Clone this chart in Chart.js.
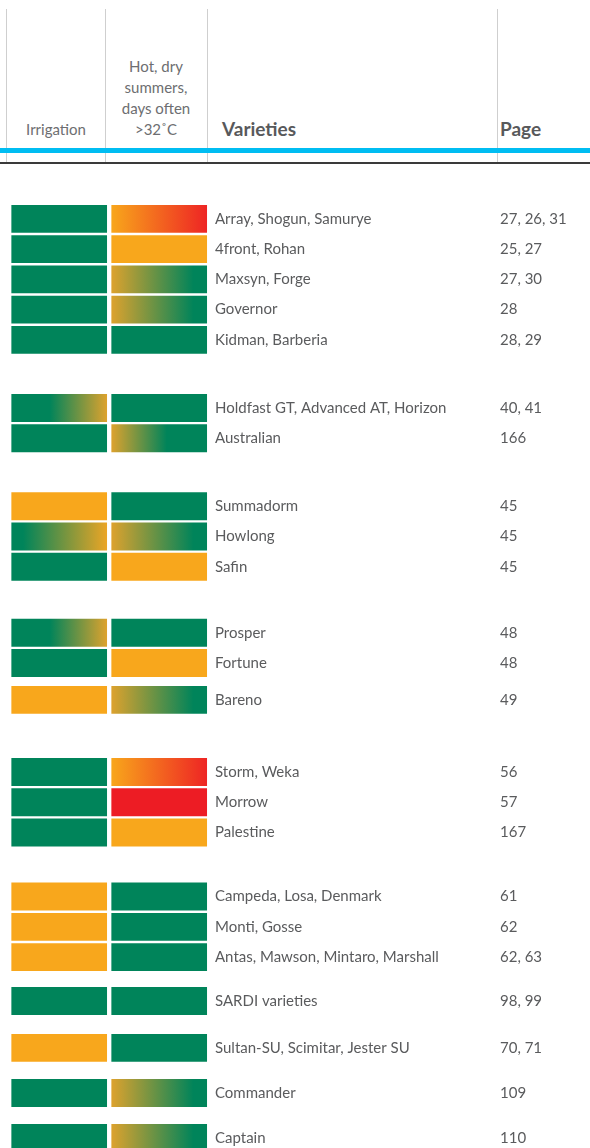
<!DOCTYPE html>
<html>
<head>
<meta charset="utf-8">
<script src="https://cdn.jsdelivr.net/npm/chart.js@4.4.0/dist/chart.umd.min.js"></script>
<style>
  body { margin: 0; background: #fff; font-family: 'Lato', sans-serif; }
  .page { position: relative; width: 590px; height: 1148px; overflow: hidden; }
  .vline { position: absolute; top: 9px; height: 154px; width: 1px; background: #cfcfcf; }
  .cyan { position: absolute; left: 0; top: 148px; width: 590px; height: 5px; background: #00bdf2; }
  .dark { position: absolute; left: 0; top: 162px; width: 590px; height: 2px; background: #3a3a3a; }
  .head { position: absolute; color: #6d6e71; font-size: 15px; line-height: 21px; text-align: center; }
  .bold { position: absolute; color: #58595b; font-size: 19px; font-weight: 700; }
  #chartWrap { position: absolute; left: 0; top: 165px; width: 590px; height: 983px; }
</style>
</head>
<body>
<div class="page">
  <div class="vline" style="left:6px"></div>
  <div class="vline" style="left:105px"></div>
  <div class="vline" style="left:207px"></div>
  <div class="vline" style="left:497px"></div>
  <div class="cyan"></div>
  <div class="dark"></div>
  <div class="head" style="left:6px;width:100px;top:119px">Irrigation</div>
  <div class="head" style="left:106px;width:100px;top:56px">Hot, dry<br>summers,<br>days often<br>&gt;32˚C</div>
  <div class="bold" style="left:222px;top:117px">Varieties</div>
  <div class="bold" style="left:500px;top:117px">Page</div>
  <div id="chartWrap"><canvas id="grid" width="590" height="983"></canvas></div>
</div>
<script>
// rows of the table
const varieties = [
  'Array, Shogun, Samurye', '4front, Rohan', 'Maxsyn, Forge', 'Governor', 'Kidman, Barberia',
  'Holdfast GT, Advanced AT, Horizon', 'Australian',
  'Summadorm', 'Howlong', 'Safin',
  'Prosper', 'Fortune', 'Bareno',
  'Storm, Weka', 'Morrow', 'Palestine',
  'Campeda, Losa, Denmark', 'Monti, Gosse', 'Antas, Mawson, Mintaro, Marshall',
  'SARDI varieties', 'Sultan-SU, Scimitar, Jester SU', 'Commander', 'Captain'
];
const pages = [
  '27, 26, 31', '25, 27', '27, 30', '28', '28, 29',
  '40, 41', '166',
  '45', '45', '45',
  '48', '48', '49',
  '56', '57', '167',
  '61', '62', '62, 63',
  '98, 99', '70, 71', '109', '110'
];
// suitability rating per column
const irrigation = [
  'green', 'green', 'green', 'green', 'green',
  'green-orange', 'green',
  'orange', 'green-orange-long', 'green',
  'green-orange', 'green', 'orange',
  'green', 'green', 'green',
  'orange', 'orange', 'orange',
  'green', 'orange', 'green', 'green'
];
const hotDry = [
  'orange-red', 'orange', 'orange-green', 'orange-green', 'green',
  'green', 'orange-green-mid',
  'green', 'orange-green', 'orange',
  'green', 'orange', 'orange-green',
  'orange-red', 'red', 'orange',
  'green', 'green', 'green',
  'green', 'green', 'orange-green', 'orange-green'
];

// layout: extra space (in row heights) inserted before a row
const extraGap = { 5: 1.25, 7: 1.25, 10: 1.18, 12: 0.22, 13: 1.38, 16: 1.12, 19: 0.45, 20: 0.55, 21: 0.49, 22: 0.49 };
const rowPos = [];
let acc = 0;
varieties.forEach((v, i) => {
  acc += (extraGap[i] || 0);
  rowPos.push(i + acc);
});

const GREEN = '#00845a', ORANGE = '#f8a71c', RED = '#ed1c24', GOLD = '#dca22e';
const ratingStops = {
  'green': [[0, GREEN], [1, GREEN]],
  'orange': [[0, ORANGE], [1, ORANGE]],
  'red': [[0, RED], [1, RED]],
  'orange-red': [[0, '#f8a61b'], [1, '#ee2524']],
  'orange-green': [[0, GOLD], [0.86, GREEN], [1, GREEN]],
  'orange-green-mid': [[0, GOLD], [0.58, GREEN], [1, GREEN]],
  'green-orange': [[0, GREEN], [0.4, GREEN], [1, GOLD]],
  'green-orange-long': [[0, GREEN], [0.12, GREEN], [1, '#eaa526']]
};

function cellFill(ratings, col) {
  return (ctx) => {
    const chart = ctx.chart;
    const rating = ratings[ctx.dataIndex];
    const stops = ratingStops[rating] || ratingStops.green;
    if (!chart.chartArea || stops[0][1] === stops[stops.length - 1][1]) return stops[0][1];
    const xs = chart.scales.x;
    const x0 = xs.getPixelForValue(col) + 2.5;
    const x1 = xs.getPixelForValue(col + 1) - 2.5;
    const g = chart.ctx.createLinearGradient(x0, 0, x1, 0);
    stops.forEach(s => g.addColorStop(s[0], s[1]));
    return g;
  };
}

const labelFont = { family: 'Lato', size: 15 };

// right-hand axes carry the text columns; no end padding so rows map 1:1
function textAxis(width, labels) {
  return {
    type: 'linear', position: 'right', reverse: true, offset: false,
    min: -1.78, max: 30.71,
    grid: { display: false, drawTicks: false }, border: { display: false },
    afterBuildTicks: s => { s.ticks = rowPos.map(v => ({ value: v })); },
    afterFit: s => { s.width = width; s.paddingTop = 0; s.paddingBottom = 0; },
    ticks: { autoSkip: false, padding: 0, color: '#5a5b5d', font: labelFont,
             callback: (v, i) => labels[i] }
  };
}

new Chart(document.getElementById('grid'), {
  type: 'bar',
  data: {
    datasets: [
      {
        label: 'Irrigation',
        data: rowPos.map(y => ({ x: 1, y })),
        backgroundColor: cellFill(irrigation, 0)
      },
      {
        label: 'Hot, dry summers',
        data: rowPos.map(y => ({ x: 1, y })),
        backgroundColor: cellFill(hotDry, 1)
      }
    ]
  },
  options: {
    indexAxis: 'y',
    responsive: false,
    devicePixelRatio: 1,
    animation: false,
    layout: { padding: 0 },
    datasets: {
      bar: {
        barThickness: 30.25,
        borderWidth: { top: 1.5, bottom: 1.5, left: 2.5, right: 2.5 },
        borderColor: '#ffffff',
        borderSkipped: false
      }
    },
    plugins: { legend: { display: false }, tooltip: { enabled: false } },
    scales: {
      x: { stacked: true, display: false, min: -0.092, max: 2.058 },
      y: Object.assign(textAxis(285, varieties), { stacked: true }),
      yPage: textAxis(90, pages)
    }
  }
});
</script>
</body>
</html>
